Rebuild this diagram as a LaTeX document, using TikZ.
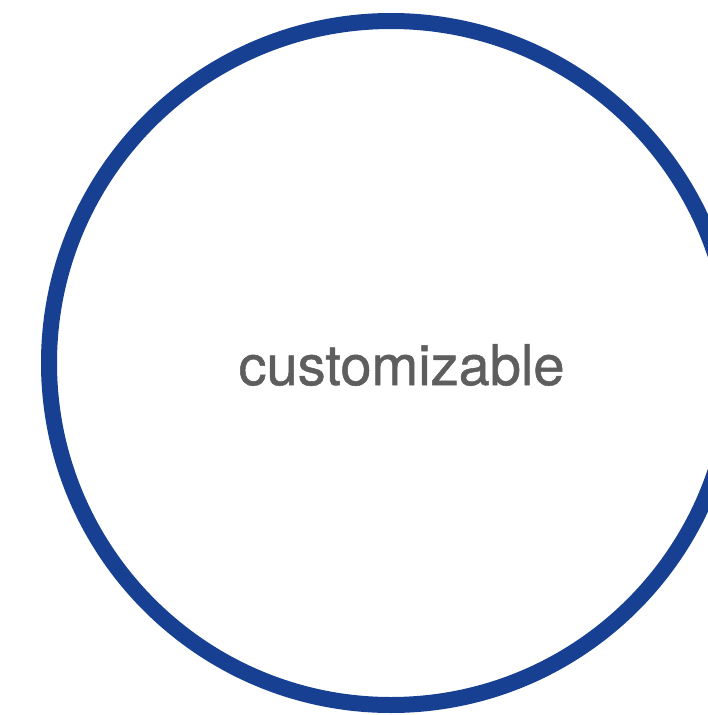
\documentclass[tikz,border=0pt]{standalone}
\usepackage{fontspec}
\setmainfont{TeX Gyre Heros}
\newfontfamily\labelfont[FakeBold=0.9]{TeX Gyre Heros}
\usepackage{xcolor}
\usepackage{tikz}
\definecolor{ringblue}{HTML}{174093}
\definecolor{labelgray}{HTML}{5E5E5E}

\begin{document}
\begin{tikzpicture}[x=1pt,y=-1pt]
\useasboundingbox (0,0) rectangle (708,715);
\clip (0,0) rectangle (708,715);
\draw[ringblue,line width=16pt] (391,363) circle (342pt);
  \node[anchor=base,inner sep=0pt,text=labelgray,font=\labelfont\fontsize{56}{60}\selectfont] (label) at (401.5,385) {customizable};
\end{tikzpicture}
\end{document}
